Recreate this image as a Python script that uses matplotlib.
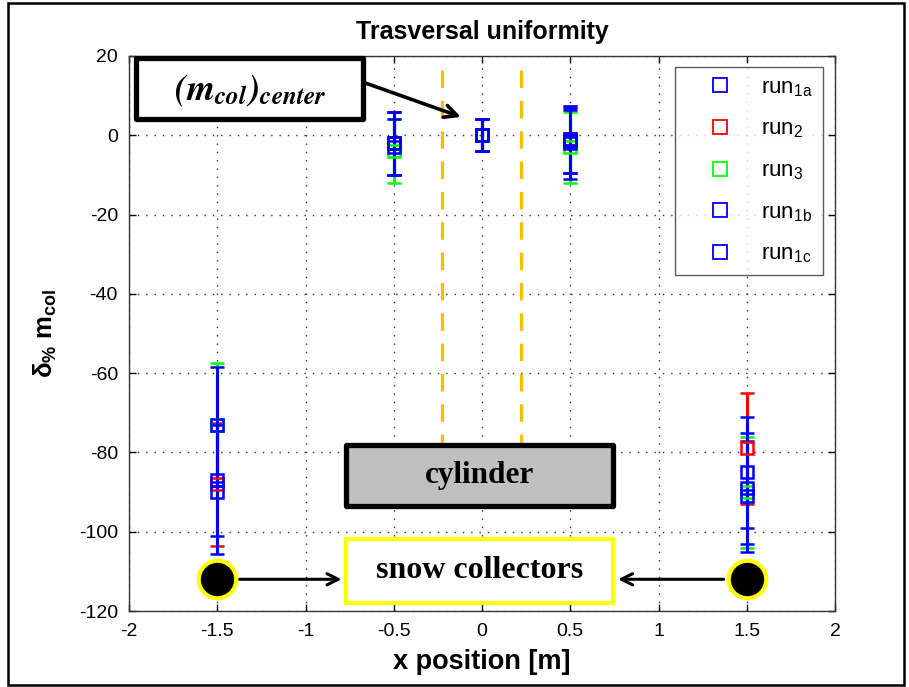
import matplotlib
matplotlib.use("Agg")
import matplotlib.pyplot as plt
from matplotlib.lines import Line2D
from matplotlib.patches import Rectangle

plt.rcParams['font.family'] = ['Liberation Sans', 'DejaVu Sans']
plt.rcParams['mathtext.fontset'] = 'custom'
plt.rcParams['mathtext.rm'] = 'Liberation Sans'
plt.rcParams['mathtext.it'] = 'Liberation Sans:italic'
plt.rcParams['mathtext.bf'] = 'Liberation Sans:bold'
plt.rcParams['axes.unicode_minus'] = False

# ---- data ----
x_pos = [-1.5, -0.5, 0.0, 0.5, 1.5]
run1a = [-73, -2.0, 0.0, -1.0, -85]
err1a = [14.5, 8, 4, 8.5, 14]
run2 = [-88, -2.0, 0.0, -1.0, -79]
err2 = [15.5, 8, 4, 8.5, 14]
run3 = [-73, -4.0, 0.0, -3.0, -90]
err3 = [15.5, 8, 4, 9, 14]
run1b = [-87, -2.0, 0.0, -2.0, -89]
err1b = [14, 8, 4, 9, 14]
run1c = [-90, -3.0, 0.0, -1.5, -91]
err1c = [15.5, 7, 4, 8, 14]

series_labels = ['run$_{\\mathrm{1a}}$', 'run$_{\\mathrm{2}}$', 'run$_{\\mathrm{3}}$',
                 'run$_{\\mathrm{1b}}$', 'run$_{\\mathrm{1c}}$']
series_colors = ['#0000ff', '#ff0000', '#00ff00', '#0000ff', '#0000ff']
draw_order = [1, 2, 0, 3, 4]

x_ticks = [-2, -1.5, -1, -0.5, 0, 0.5, 1, 1.5, 2]
x_ticklabels = ['-2', '-1.5', '-1', '-0.5', '0', '0.5', '1', '1.5', '2']
y_ticks = [20, 0, -20, -40, -60, -80, -100, -120]

fig = plt.figure(figsize=(9.09, 6.87), dpi=100)
ax = fig.add_axes([129/909, 1-611/687, 706/909, 555/687])

values = [run1a, run2, run3, run1b, run1c]
errors = [err1a, err2, err3, err1b, err1c]
for i in draw_order:
    col = series_colors[i]
    ax.errorbar(x_pos, values[i], yerr=errors[i], fmt='s', mfc='none', mec=col, ecolor=col,
                elinewidth=2.2, capsize=5, capthick=2.2, markersize=9, mew=1.8, zorder=3)
handles = [Line2D([], [], marker='s', linestyle='none', mfc='none', mec=col,
                  markersize=10, mew=1.3, label=lab)
           for col, lab in zip(series_colors, series_labels)]

ax.set_xlim(-2, 2)
ax.set_ylim(-120, 20)
ax.set_xticks(x_ticks)
ax.set_xticklabels(x_ticklabels)
ax.set_yticks(y_ticks)
ax.tick_params(direction='in', length=5, top=True, right=True, labelsize=14, width=1)
ax.tick_params(axis='x', pad=9)
ax.tick_params(axis='y', pad=8)
ax.grid(True, color='#333333', linestyle=(0, (1, 5)), linewidth=1.0)
for s in ax.spines.values():
    s.set_linewidth(1.0)
    s.set_color('#333333')

ax.set_title('Trasversal uniformity', fontsize=18, fontweight='bold', pad=12)
ax.set_xlabel('x position [m]', fontsize=19.5, fontweight='bold', labelpad=6)
ax.set_ylabel(r'$\mathbf{\delta_{\%}\ m_{col}}$', fontsize=18.5, labelpad=14)

leg = ax.legend(handles=handles, loc='upper right', bbox_to_anchor=(0.983, 0.980),
                fontsize=16, frameon=True, fancybox=False, labelspacing=0.9,
                handlelength=3.2, handletextpad=0.25, borderpad=0.45, borderaxespad=0)
leg.get_frame().set_edgecolor('#333333')
leg.get_frame().set_linewidth(1.0)

# ---- annotations ----
for xv in (-0.228, 0.22):
    ax.plot([xv, xv], [16.5, -78.25], color='#ffbb00', linewidth=2.3,
            linestyle=(0, (5.5, 4)), zorder=2)

ax.add_patch(Rectangle((-0.771, -93.6), 1.514, 15.35, facecolor='#c0c0c0',
                       edgecolor='black', linewidth=3.8, joinstyle='round', zorder=5))
ax.text(-0.014, -85.9, 'cylinder', fontsize=22.5, fontweight='bold', family='Liberation Serif',
        ha='center', va='center', zorder=6)

ax.add_patch(Rectangle((-0.773, -118.0), 1.518, 16.2, facecolor='white',
                       edgecolor='#ffff00', linewidth=3.0, zorder=5))
ax.text(-0.014, -109.9, 'snow collectors', fontsize=23, fontweight='bold',
        family='Liberation Serif', ha='center', va='center', zorder=6)

ax.add_patch(Rectangle((-1.96, 4.0), 1.286, 15.4, facecolor='white',
                       edgecolor='black', linewidth=3.8, joinstyle='round', zorder=5,
                       clip_on=False))
ax.text(-1.312, 11.2, r'$\mathbfit{(m}_{\mathbfit{col}}\mathbfit{)}_{\mathbfit{center}}$',
        fontsize=26, math_fontfamily='stix', ha='center', va='center', zorder=6)
ax.annotate('', xy=(-0.105, 4.4), xytext=(-0.674, 13.4),
            arrowprops=dict(arrowstyle='->,head_length=0.9,head_width=0.45',
                            color='black', lw=2.6), zorder=6)

for xc in (-1.5, 1.5):
    ax.plot([xc], [-112.0], marker='o', markersize=27, mfc='black', mec='#ffff00',
            mew=3, zorder=7, clip_on=False)
ax.annotate('', xy=(-0.78, -112.0), xytext=(-1.39, -112.0),
            arrowprops=dict(arrowstyle='->,head_length=0.8,head_width=0.4',
                            color='black', lw=2.2), zorder=6)
ax.annotate('', xy=(0.755, -112.0), xytext=(1.385, -112.0),
            arrowprops=dict(arrowstyle='->,head_length=0.8,head_width=0.4',
                            color='black', lw=2.2), zorder=6)

fig.add_artist(Rectangle((8/909, 2/687), 896/909, 682/687, transform=fig.transFigure,
                         fill=False, edgecolor='black', linewidth=1.8))

fig.savefig('out.png', dpi=100)
